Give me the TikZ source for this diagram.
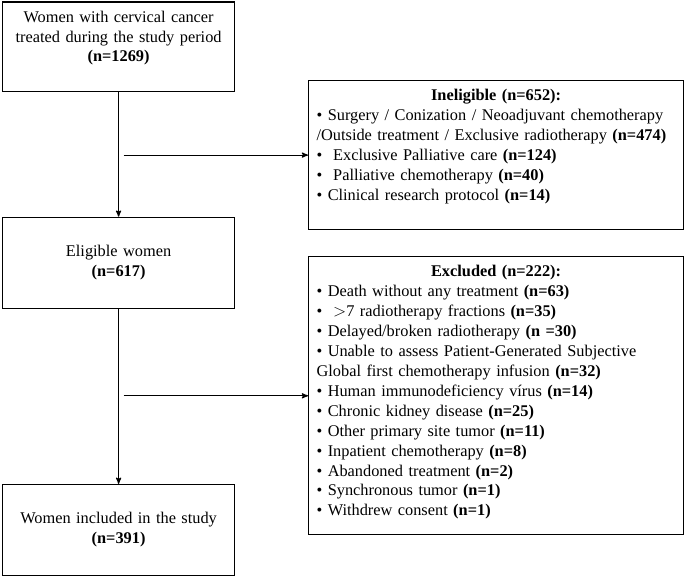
\documentclass[tikz,border=0pt]{standalone}
\usepackage{fontspec}
\setmainfont{Liberation Serif}
\usetikzlibrary{positioning, arrows, calc}
\tikzset{
>=stealth', % filled arrow heads
node distance=2cm, % default gap between boxes
box/.style={draw=black, line width=1.2pt, inner xsep=3bp, inner ysep=6bp, text width=226bp, align=center, font=\fontsize{16.4}{20}\selectfont}, % boxes of the main column
listbox/.style={box, inner xsep=8bp, text width=359bp, align=left}, % boxes with the reasons
}
\begin{document}
\begin{tikzpicture}
      \useasboundingbox (0,0) rectangle (685bp,-577bp);
      \node[box, anchor=north west, text height=14bp, text depth=63bp] (cohort) at (2bp,-1.5bp) {Women with cervical cancer treated during the study period\\ \textbf{(n=1269)}};
      \node[box, below=125bp of cohort, minimum height=91bp] (eligible) {Eligible women\\ \textbf{(n=617)}};
      \node[box, below=175bp of eligible, minimum height=91bp] (included) {Women included in the study\\ \textbf{(n=391)}};
      \node[listbox, anchor=north west, text height=14bp, text depth=123bp] (ineligible) at (308bp,-80bp) {\makebox[\linewidth]{\textbf{Ineligible (n=652):}}\\
        • Surgery / Conization / Neoadjuvant chemotherapy\\
        /Outside treatment / Exclusive radiotherapy \textbf{(n=474)}\\
        • \ Exclusive Palliative care \textbf{(n=124)}\\
        • \ Palliative chemotherapy \textbf{(n=40)}\\
        • Clinical research protocol \textbf{(n=14)}};
      \node[listbox, below=26bp of ineligible, text height=14bp, text depth=252bp] (excluded) {\makebox[\linewidth]{\textbf{Excluded (n=222):}}\\
        • Death without any treatment \textbf{(n=63)}\\
        • \ $>$7 radiotherapy fractions \textbf{(n=35)}\\
        • Delayed/broken radiotherapy \textbf{(n =30)}\\
        • Unable to assess Patient-Generated Subjective\\
        Global first chemotherapy infusion \textbf{(n=32)}\\
        • Human immunodeficiency vírus \textbf{(n=14)}\\
        • Chronic kidney disease \textbf{(n=25)}\\
        • Other primary site tumor \textbf{(n=11)}\\
        • Inpatient chemotherapy \textbf{(n=8)}\\
        • Abandoned treatment \textbf{(n=2)}\\
        • Synchronous tumor \textbf{(n=1)}\\
        • Withdrew consent \textbf{(n=1)}};

      \draw[->, line width=1.2pt] (cohort) -- (eligible);
      \draw[->, line width=1.2pt] (eligible) -- (included);
      \draw[->, line width=1.2pt] ([xshift=5bp]cohort.south |- ineligible.west) -- (ineligible.west);
      \draw[->, line width=1.2pt] ([xshift=5bp]eligible.south |- excluded.west) -- (excluded.west);
    \end{tikzpicture}
\end{document}
